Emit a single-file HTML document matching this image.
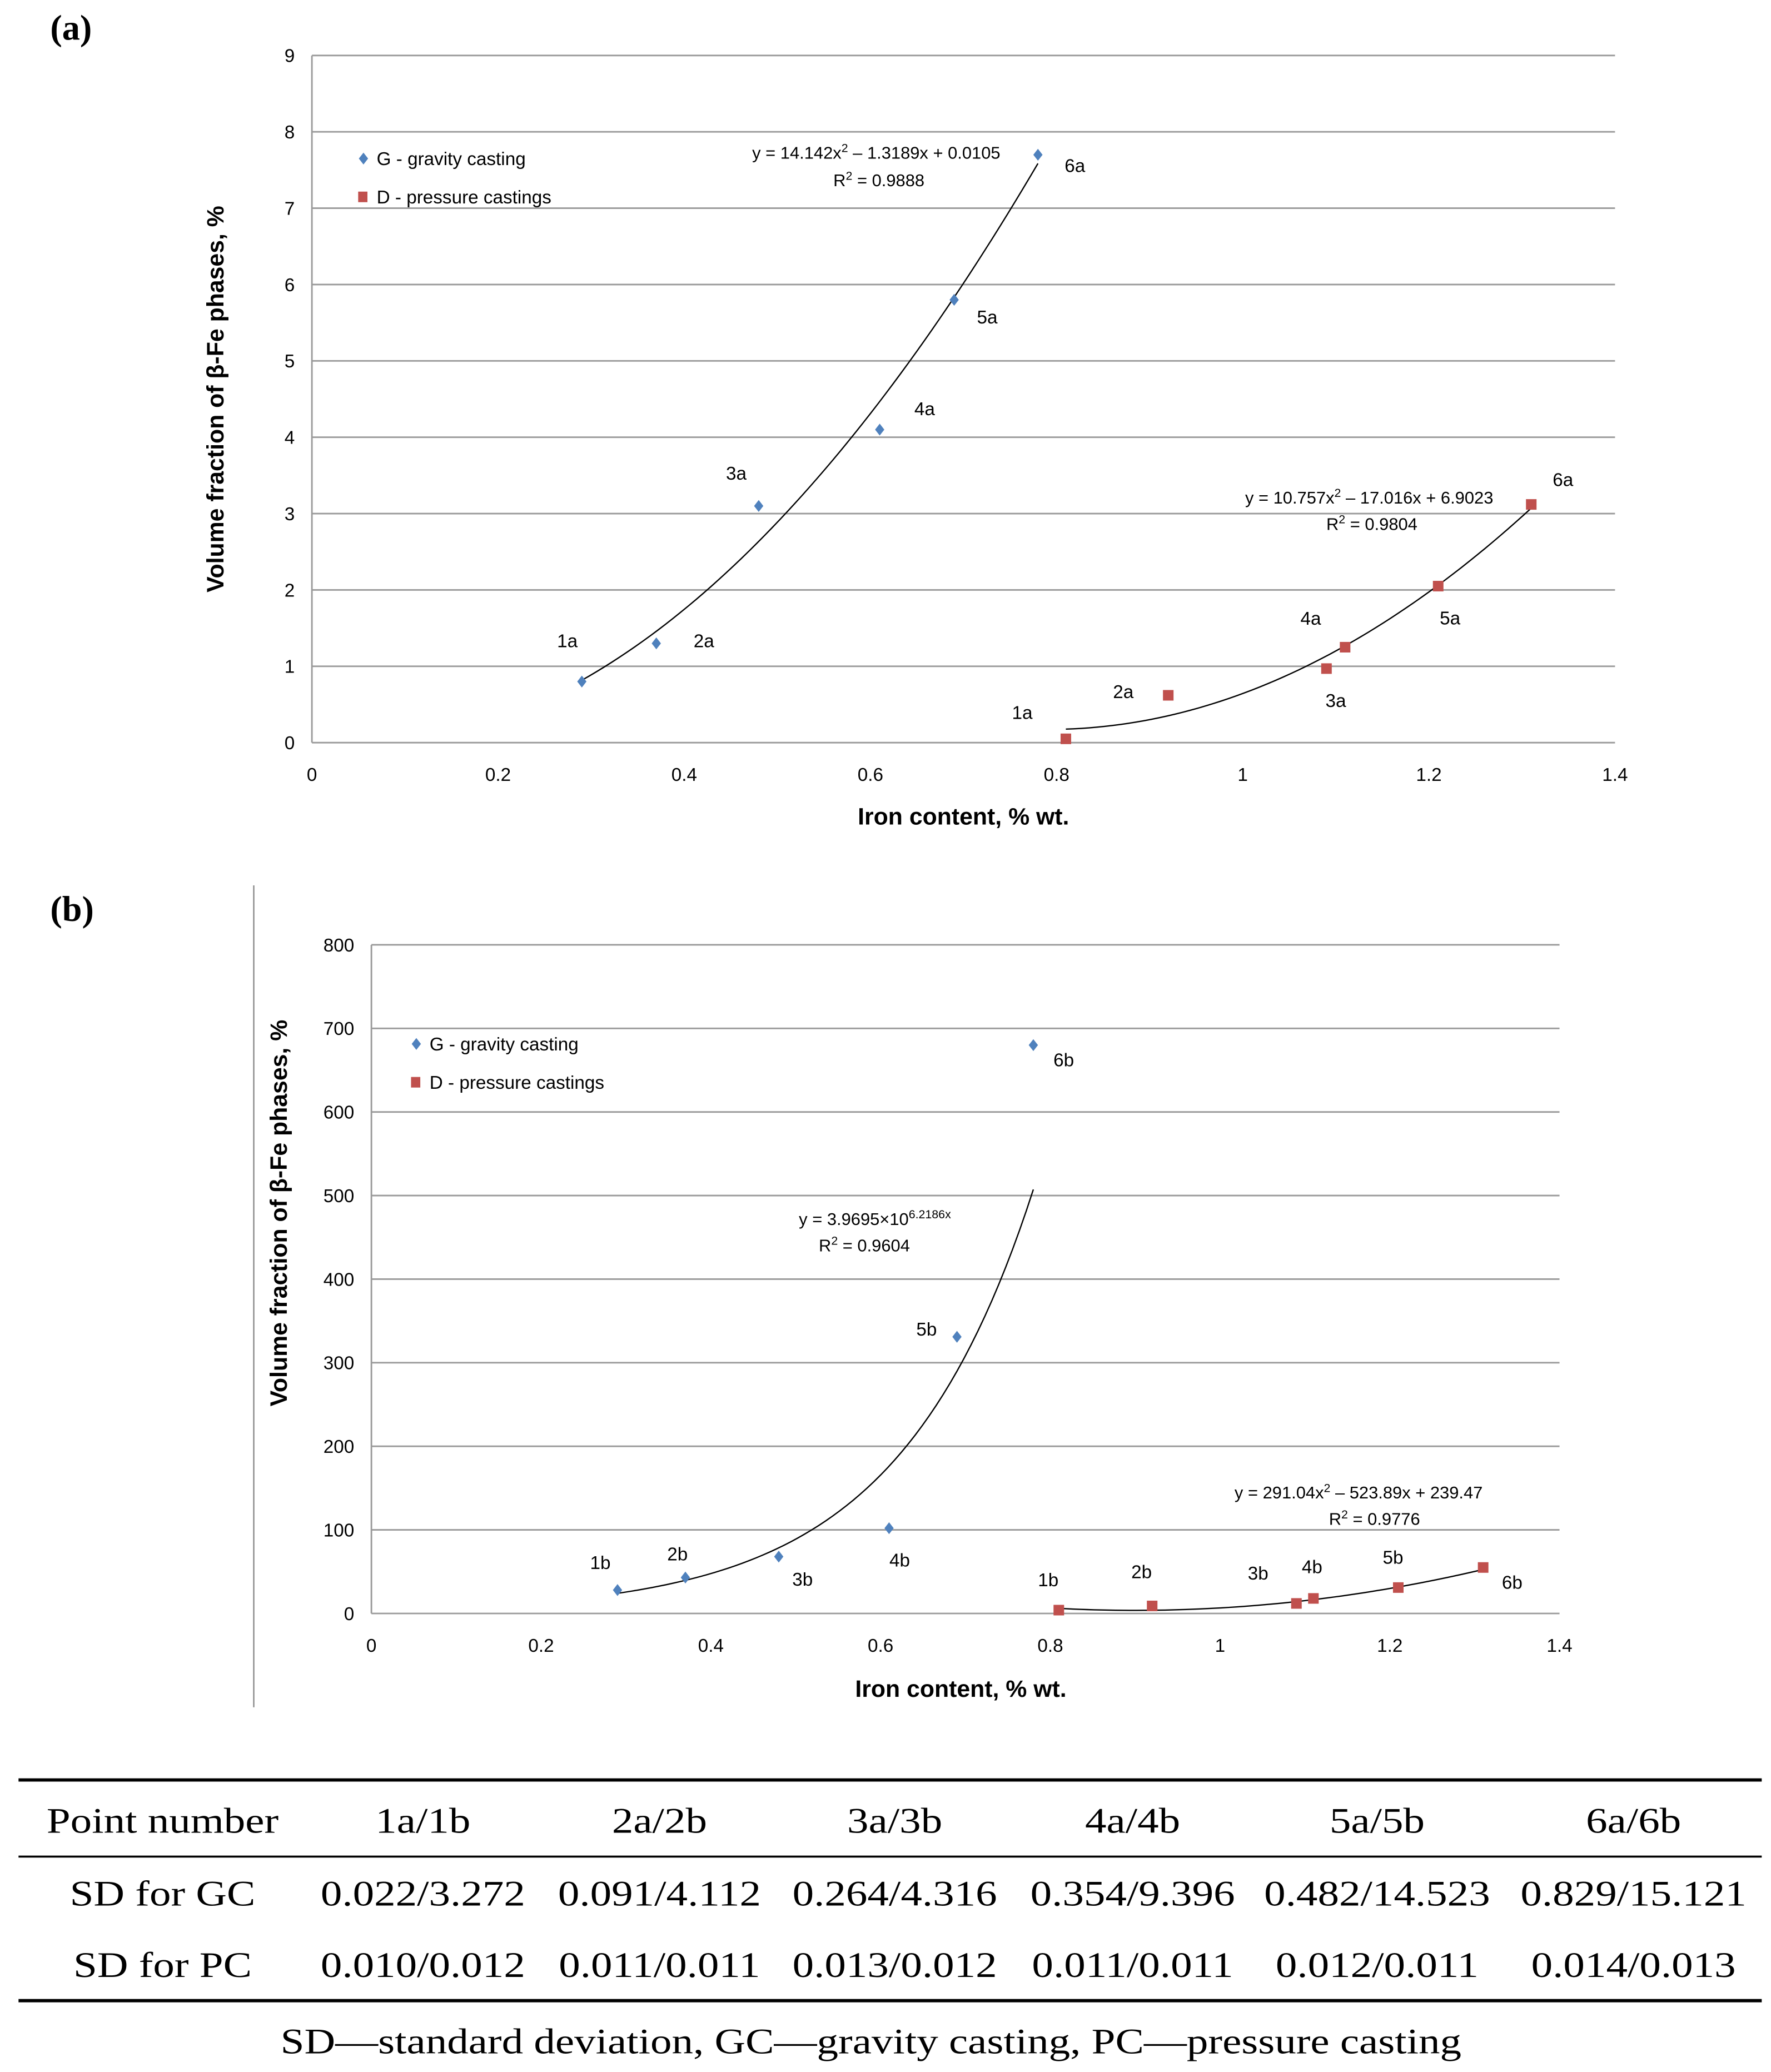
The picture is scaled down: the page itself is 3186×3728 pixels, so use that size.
<!DOCTYPE html>
<html><head><meta charset="utf-8">
<style>
html,body{margin:0;padding:0;background:#fff;}
svg{display:block;}
.t{font-family:"Liberation Sans",sans-serif;fill:#000;}
.s{font-family:"Liberation Serif",serif;fill:#000;}
</style></head>
<body>
<svg id="root" width="3186" height="3728" viewBox="0 0 1340 1568" xmlns="http://www.w3.org/2000/svg">
<g id="ga"></g>
<g id="gb"></g>
<g id="tbl"></g>
</svg>
<script>
// ---- data chart (a)
const aGx=[0.29,0.37,0.48,0.61,0.69,0.78];
const aGy=[0.8,1.3,3.1,4.1,5.8,7.7];
const aDx=[0.81,0.92,1.09,1.11,1.21,1.31];
const aDy=[0.05,0.62,0.97,1.25,2.05,3.12];
const aGlab=["1a","2a","3a","4a","5a","6a"];
const aDlab=["1a","2a","3a","4a","5a","6a"];
const aYticks=[0,1,2,3,4,5,6,7,8,9];
const xTicks=[0,0.2,0.4,0.6,0.8,1,1.2,1.4];
// ---- data chart (b)
const bGx=[0.29,0.37,0.48,0.61,0.69,0.78];
const bGy=[28,43,68,102,331,680];
const bDx=[0.81,0.92,1.09,1.11,1.21,1.31];
const bDy=[4,9,12,18,31,55];
const bGlab=["1b","2b","3b","4b","5b","6b"];
const bDlab=["1b","2b","3b","4b","5b","6b"];
const bYticks=[0,100,200,300,400,500,600,700,800];
// label offsets (layout)
const aGoff=[[-11,-31],[36,-2],[-17,-25],[34,-16],[25,13],[28,8]];
const aDoff=[[-33,-20],[-34,-3],[7,24],[-26,-22],[9,24],[24,-19]];
const bGoff=[[-13,-21],[-6,-18],[18,17],[8,24],[-23,-6],[23,11]];
const bDoff=[[-8,-23],[-8,-26],[-29,-23],[-1,-24],[-4,-23],[22,11]];

const NS="http://www.w3.org/2000/svg";
function el(parent,tag,attrs,text){const e=document.createElementNS(NS,tag);for(const k in attrs)e.setAttribute(k,attrs[k]);if(text!==undefined)e.textContent=text;parent.appendChild(e);return e;}

function chart(g,cfg){
  const sx=v=>cfg.x0+(v-0)/(1.4)*(cfg.x1-cfg.x0);
  const sy=v=>cfg.y0-(v/cfg.ymax)*(cfg.y0-cfg.y1);
  cfg.yt.forEach(v=>{
    if(v>0){const l=el(g,'line',{x1:sx(0),x2:sx(1.4),y1:sy(v),y2:sy(v),stroke:'#9a9a9a','stroke-width':1.2});
    }
    const t=el(g,'text',{x:cfg.x0-13,y:sy(v)+5,'text-anchor':'end','font-size':14,class:'t'},String(v));
    
  });
  const ax=el(g,'line',{x1:sx(0),x2:sx(0),y1:cfg.y1,y2:cfg.y0,stroke:'#9a9a9a','stroke-width':1.2});
  
  const bx=el(g,'line',{x1:sx(0),x2:sx(1.4),y1:cfg.y0,y2:cfg.y0,stroke:'#9a9a9a','stroke-width':1.2});
  
  xTicks.forEach(v=>{
    const t=el(g,'text',{x:sx(v),y:cfg.y0+29,'text-anchor':'middle','font-size':14,class:'t'},String(v));
    
  });
  const xt=el(g,'text',{x:cfg.xtX,y:cfg.xtY,'text-anchor':'middle','font-size':18,'font-weight':'bold',class:'t'},'Iron content, % wt.');
  
  const yt=el(g,'text',{x:0,y:0,'text-anchor':'middle','font-size':18,'font-weight':'bold',class:'t',transform:`translate(${cfg.ytX},${cfg.ytY}) rotate(-90)`},'Volume fraction of β-Fe phases, %');
  
  [[cfg.fG,cfg.Gx],[cfg.fD,cfg.Dx]].forEach(([f,xs],i)=>{
    let d='';const a=xs[0],b=xs[xs.length-1];
    for(let k=0;k<=60;k++){const x=a+(b-a)*k/60;d+=(k?'L':'M')+sx(x).toFixed(2)+','+sy(f(x)).toFixed(2);}
    const p=el(g,'path',{d:d,fill:'none',stroke:'#000','stroke-width':1});
    
  });
  cfg.Gx.forEach((x,i)=>{
    const X=sx(x),Y=sy(cfg.Gy[i]);
    const m=el(g,'polygon',{points:`${X},${Y-4.5} ${X+3.5},${Y} ${X},${Y+4.5} ${X-3.5},${Y}`,fill:'#4f81bd'});
    
    const t=el(g,'text',{x:X+cfg.Goff[i][0],y:Y+cfg.Goff[i][1]+5,'text-anchor':'middle','font-size':14,class:'t'},cfg.Glab[i]);
    
  });
  cfg.Dx.forEach((x,i)=>{
    const X=sx(x),Y=sy(cfg.Dy[i]);
    const m=el(g,'rect',{x:X-4,y:Y-4,width:8,height:8,fill:'#c0504d'});
    
    const t=el(g,'text',{x:X+cfg.Doff[i][0],y:Y+cfg.Doff[i][1]+5,'text-anchor':'middle','font-size':14,class:'t'},cfg.Dlab[i]);
    
  });
  const lx=cfg.legX,ly=cfg.legY;
  const ld=el(g,'polygon',{points:`${lx},${ly-4.5} ${lx+3.5},${ly} ${lx},${ly+4.5} ${lx-3.5},${ly}`,fill:'#4f81bd'});
  
  const l1=el(g,'text',{x:lx+10,y:ly+5,'font-size':14,class:'t'},'G - gravity casting');
  
  const ls=el(g,'rect',{x:lx-4,y:ly+29-4,width:7,height:8,fill:'#c0504d'});
  
  const l2=el(g,'text',{x:lx+10,y:ly+29+5,'font-size':14,class:'t'},'D - pressure castings');
  
  cfg.eqs.forEach(q=>{
    const t=el(g,'text',{x:q[0],y:q[1],'text-anchor':'middle','font-size':13,class:'t'});
    t.innerHTML=q[2];
    
  });
}
const ga=document.getElementById('ga'),gb=document.getElementById('gb');
const pa=el(ga,'text',{x:38,y:30,'font-size':27,'font-weight':'bold',class:'s'},'(a)');

chart(ga,{x0:236,x1:1222,y0:562,y1:42,ymax:9,yt:aYticks,Gx:aGx,Gy:aGy,Dx:aDx,Dy:aDy,Glab:aGlab,Dlab:aDlab,Goff:aGoff,Doff:aDoff,
  fG:x=>14.142*x*x-1.3189*x+0.0105,fD:x=>10.757*x*x-17.016*x+6.9023,
  xtX:729,xtY:624,ytX:169,ytY:302,legX:275,legY:120,
  eqs:[[663,120,'y = 14.142x<tspan font-size="9" dy="-5">2</tspan><tspan dy="5"> – 1.3189x + 0.0105</tspan>'],[665,141,'R<tspan font-size="9" dy="-5">2</tspan><tspan dy="5"> = 0.9888</tspan>'],
       [1036,381,'y = 10.757x<tspan font-size="9" dy="-5">2</tspan><tspan dy="5"> – 17.016x + 6.9023</tspan>'],[1038,401,'R<tspan font-size="9" dy="-5">2</tspan><tspan dy="5"> = 0.9804</tspan>']]});
const pb=el(gb,'text',{x:38,y:697,'font-size':27,'font-weight':'bold',class:'s'},'(b)');

const sep=el(gb,'line',{x1:192,x2:192,y1:670,y2:1292,stroke:'#888','stroke-width':1});

chart(gb,{x0:281,x1:1180,y0:1221,y1:715,ymax:800,yt:bYticks,Gx:bGx,Gy:bGy,Dx:bDx,Dy:bDy,Glab:bGlab,Dlab:bDlab,Goff:bGoff,Doff:bDoff,
  fG:x=>3.9695*Math.exp(6.2186*x),fD:x=>291.04*x*x-523.89*x+239.47,
  xtX:727,xtY:1284,ytX:217,ytY:918,legX:315,legY:790,
  eqs:[[662,927,'y = 3.9695×10<tspan font-size="9" dy="-5">6.2186x</tspan>'],[654,947,'R<tspan font-size="9" dy="-5">2</tspan><tspan dy="5"> = 0.9604</tspan>'],
       [1028,1134,'y = 291.04x<tspan font-size="9" dy="-5">2</tspan><tspan dy="5"> – 523.89x + 239.47</tspan>'],[1040,1154,'R<tspan font-size="9" dy="-5">2</tspan><tspan dy="5"> = 0.9776</tspan>']]});
// ---- table
const tb=document.getElementById('tbl');
const colX=[123,320,499,677,857,1042,1236];
const rowsT=[["Point number","1a/1b","2a/2b","3a/3b","4a/4b","5a/5b","6a/6b"],
 ["SD for GC","0.022/3.272","0.091/4.112","0.264/4.316","0.354/9.396","0.482/14.523","0.829/15.121"],
 ["SD for PC","0.010/0.012","0.011/0.011","0.013/0.012","0.011/0.011","0.012/0.011","0.014/0.013"]];
const rowY=[1387,1442,1496];
function stretch(t,f){const w=t.getComputedTextLength();t.setAttribute('textLength',(w*f).toFixed(1));t.setAttribute('lengthAdjust','spacingAndGlyphs');}
[[1347,2.5],[1405,1.5],[1514,2.5]].forEach(([y,w])=>{const l=el(tb,'line',{x1:14,x2:1333,y1:y,y2:y,stroke:'#000','stroke-width':w});
 });
rowsT.forEach((r,i)=>r.forEach((c,j)=>{const t=el(tb,'text',{x:colX[j],y:rowY[i],'text-anchor':'middle','font-size':27,class:'s'},c);
 
 stretch(t,1.2);}));
const fn=el(tb,'text',{x:659,y:1554,'text-anchor':'middle','font-size':27,class:'s'},'SD—standard deviation, GC—gravity casting, PC—pressure casting');

stretch(fn,1.2);
</script>
</body></html>
